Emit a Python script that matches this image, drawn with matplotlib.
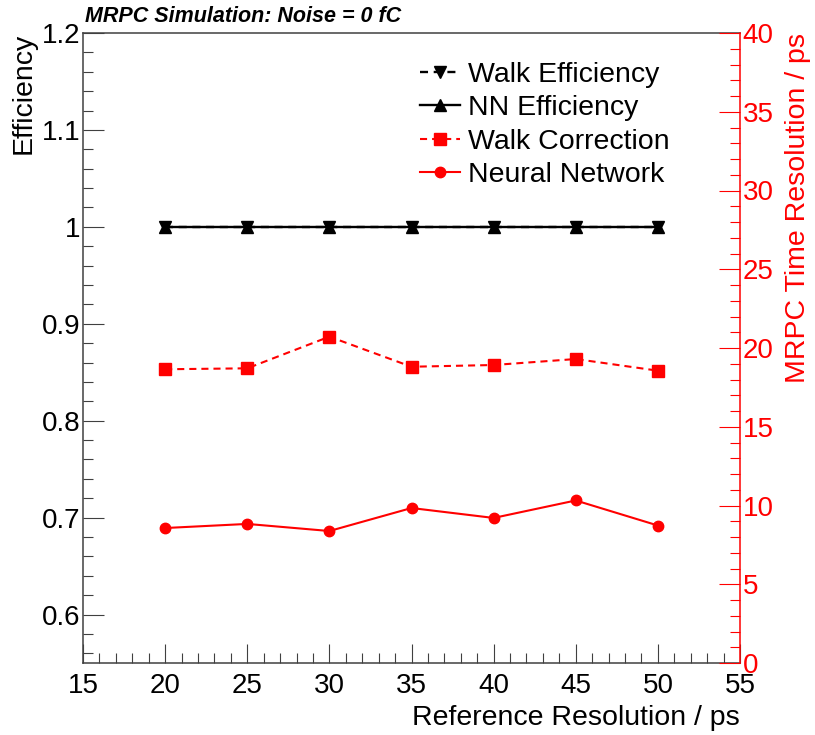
import matplotlib
matplotlib.use("Agg")
import matplotlib.pyplot as plt
from matplotlib.ticker import MultipleLocator, FuncFormatter

plt.rcParams['font.family'] = ['Liberation Sans', 'DejaVu Sans']

# ---- data ----
ref_res = [20, 25, 30, 35, 40, 45, 50]
walk_eff = [1.0, 1.0, 1.0, 1.0, 1.0, 1.0, 1.0]
nn_eff = [1.0, 1.0, 1.0, 1.0, 1.0, 1.0, 1.0]
walk_corr = [18.65, 18.71, 20.72, 18.81, 18.92, 19.30, 18.56]
neural_net = [8.57, 8.83, 8.38, 9.84, 9.21, 10.32, 8.73]

title = "MRPC Simulation: Noise = 0 fC"
xlabel = "Reference Resolution / ps"
ylabel = "Efficiency"
y2label = "MRPC Time Resolution / ps"
labels = ["Walk Efficiency", "NN Efficiency", "Walk Correction", "Neural Network"]

W, H = 815, 735
fig = plt.figure(figsize=(W / 100, H / 100), dpi=100)
ax = fig.add_axes([83 / W, 72 / H, 657 / W, 630 / H])

frame_col = '#404040'
red = '#ff0000'
dash = (0, (3.4, 2.4))

l1, = ax.plot(ref_res, walk_eff, color='black', lw=1.7, ls=dash, marker='v', ms=8)
l2, = ax.plot(ref_res, nn_eff, color='black', lw=1.7, ls='-', marker='^', ms=8)

ax.set_xlim(15, 55)
ax.set_ylim(0.55, 1.2)
ax.xaxis.set_major_locator(MultipleLocator(5))
ax.xaxis.set_minor_locator(MultipleLocator(1))
ax.yaxis.set_major_locator(MultipleLocator(0.1))
ax.yaxis.set_minor_locator(MultipleLocator(0.02))
ax.yaxis.set_major_formatter(FuncFormatter(lambda v, p: "%g" % round(v, 3)))
ax.tick_params(axis='both', which='both', direction='in', top=False, right=False,
               color=frame_col, width=0.8, labelsize=20)
ax.tick_params(axis='y', which='major', length=15, pad=2)
ax.tick_params(axis='y', which='minor', length=7)
ax.tick_params(axis='x', which='major', length=14, pad=7)
ax.tick_params(axis='x', which='minor', length=7)
for s in ['left', 'top', 'bottom']:
    ax.spines[s].set_color(frame_col)
    ax.spines[s].set_linewidth(1.1)
ax.spines['right'].set_visible(False)

ax2 = ax.twinx()
l3, = ax2.plot(ref_res, walk_corr, color=red, lw=1.5, ls=dash, marker='s', ms=8)
l4, = ax2.plot(ref_res, neural_net, color=red, lw=1.5, ls='-', marker='o', ms=7.5)
ax2.set_ylim(0, 40)
ax2.yaxis.set_major_locator(MultipleLocator(5))
ax2.yaxis.set_minor_locator(MultipleLocator(1))
ax2.tick_params(axis='y', which='both', direction='in', color=red, labelcolor=red,
                width=0.8, labelsize=20, pad=2)
ax2.tick_params(axis='y', which='major', length=15)
ax2.tick_params(axis='y', which='minor', length=7)
for s in ['left', 'top', 'bottom']:
    ax2.spines[s].set_visible(False)
ax2.spines['right'].set_color(red)
ax2.spines['right'].set_linewidth(1.1)

ax2.legend([l1, l2, l3, l4], labels, loc='upper left',
           bbox_to_anchor=(420 / W, 1 - 62 / H), bbox_transform=fig.transFigure,
           frameon=False, fontsize=20.5, handlelength=1.4, handletextpad=0.3,
           labelspacing=0.26, borderpad=0, borderaxespad=0, numpoints=1)

fig.text(85 / W, 1 - 17 / H, title, ha='left', va='center', fontsize=15.5,
         fontweight='bold', fontstyle='italic')
fig.text(24 / W, 1 - 33 / H, ylabel, rotation=90, ha='center', va='top', fontsize=20.5)
fig.text(740 / W, 1 - 718 / H, xlabel, ha='right', va='center', fontsize=20.5)
fig.text(798 / W, 1 - 33 / H, y2label, rotation=90, ha='center', va='top',
         fontsize=20.5, color=red)

fig.savefig("out.png", dpi=100)
